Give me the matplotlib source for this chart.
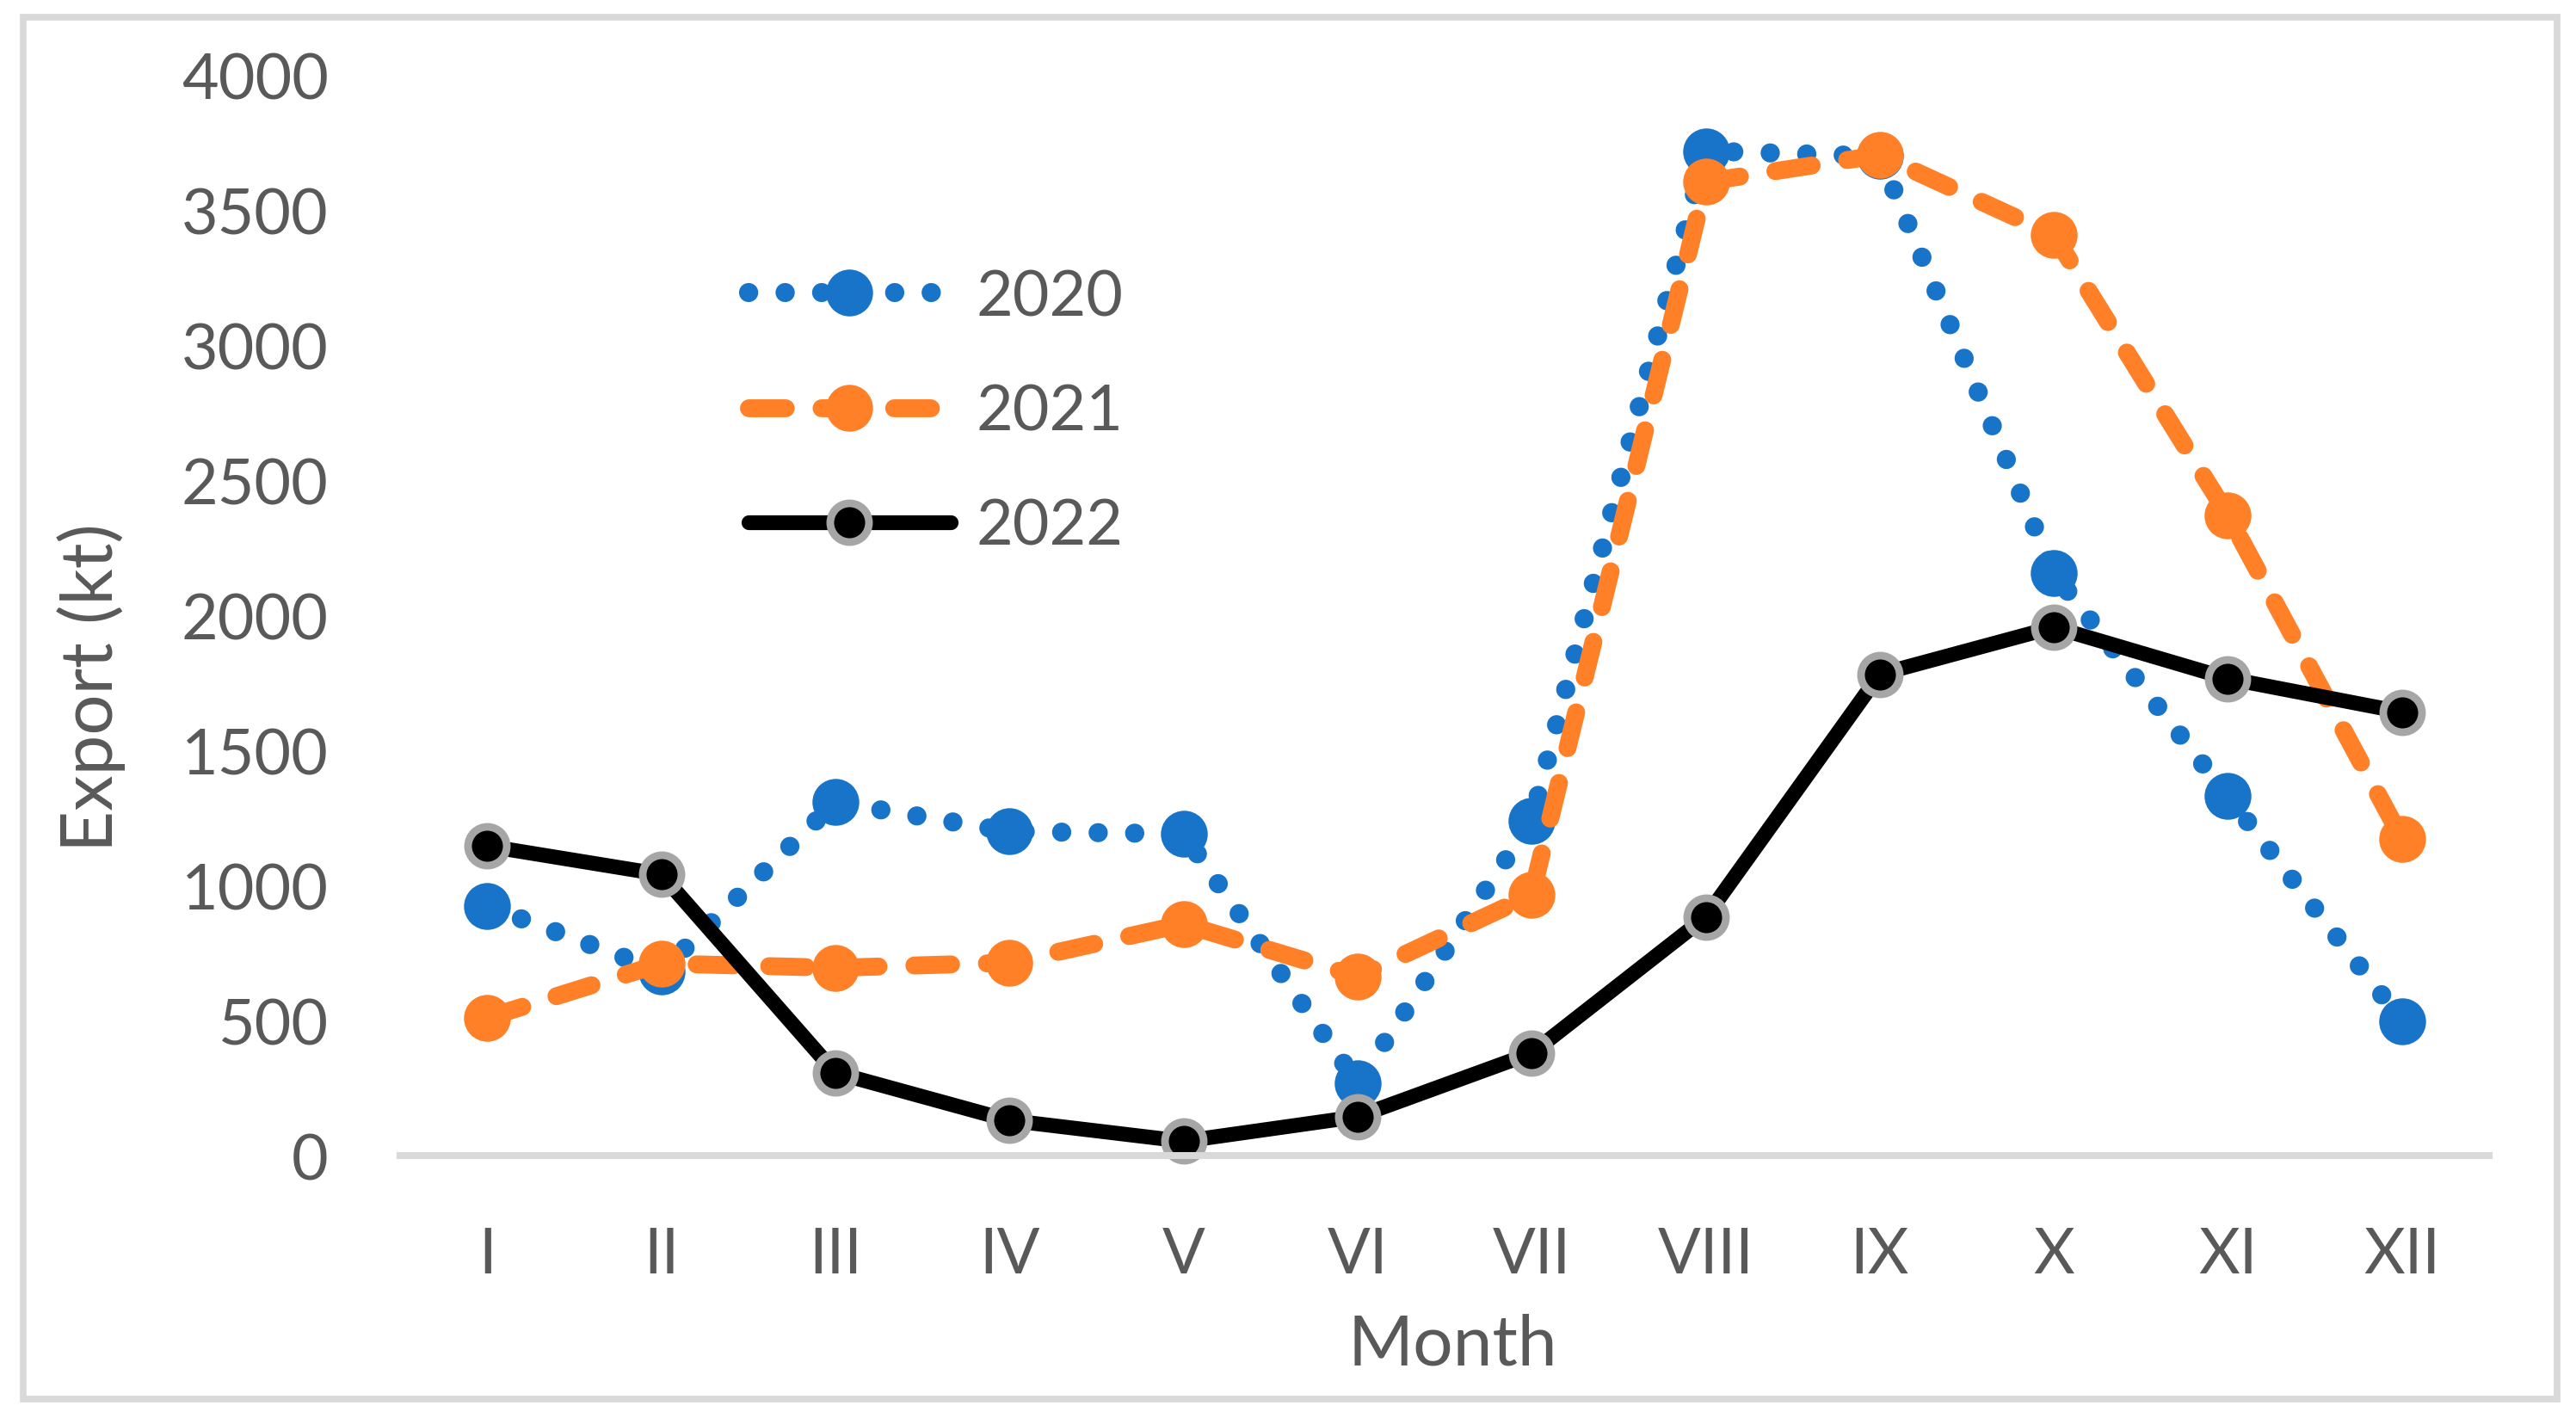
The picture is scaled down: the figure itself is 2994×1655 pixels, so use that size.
import matplotlib
matplotlib.use("Agg")
import matplotlib.pyplot as plt
from matplotlib.patches import Rectangle

# ---------------- data ----------------
months = ["I", "II", "III", "IV", "V", "VI", "VII", "VIII", "IX", "X", "XI", "XII"]
years = ["2020", "2021", "2022"]
export_2020 = [924, 682, 1308, 1200, 1191, 268, 1240, 3719, 3700, 2155, 1330, 498]
export_2021 = [510, 711, 695, 714, 857, 663, 965, 3605, 3704, 3408, 2370, 1172]
export_2022 = [1146, 1041, 307, 130, 53, 144, 379, 883, 1782, 1956, 1766, 1642]
y_ticks = [0, 500, 1000, 1500, 2000, 2500, 3000, 3500, 4000]

# ---------------- style ----------------
plt.rcParams["font.family"] = ["Lato", "DejaVu Sans"]
TEXT = "#595959"
BLUE = "#1874C8"
ORANGE = "#FF8027"
GRID = "#D9D9D9"

W, H, DPI = 2994, 1656, 200
fig = plt.figure(figsize=(W / DPI, H / DPI), dpi=DPI)

# outer chart border
fig.add_artist(Rectangle((26.5 / W, 1 - 1627 / H), (2972 - 26.5) / W, (1627 - 21) / H,
                         transform=fig.transFigure, fill=False, edgecolor=GRID,
                         linewidth=2.8, zorder=0))

ax_left, ax_right = 465 / W, 2893 / W
ax_bottom, ax_top = 1 - 1344 / H, 1 - 88.3 / H
ax = fig.add_axes([ax_left, ax_bottom, ax_right - ax_left, ax_top - ax_bottom])

x = list(range(len(months)))

ax.plot(x, export_2020, color=BLUE, lw=8, linestyle=(0, (0.01, 1.9)),
        dash_capstyle="round", solid_capstyle="round",
        marker="o", ms=19.6, mfc=BLUE, mec=BLUE, mew=0, label=years[0], clip_on=False)
ax.plot(x, export_2021, color=ORANGE, lw=7.5, linestyle=(0, (2.05, 2.0)),
        dash_capstyle="round", solid_capstyle="round",
        marker="o", ms=19.6, mfc=ORANGE, mec=ORANGE, mew=0, label=years[1], clip_on=False)
ax.plot(x, export_2022, color="black", lw=6.2, solid_capstyle="round",
        solid_joinstyle="round",
        marker="o", ms=16.2, mfc="black", mec="#A6A6A6", mew=3.2, label=years[2], clip_on=False)

ax.set_xlim(-0.5, len(months) - 0.5)
ax.set_ylim(0, 4000)
ax.set_xticks(x)
ax.set_xticklabels(months)
ax.set_yticks(y_ticks)
ax.set_yticklabels([str(v) for v in y_ticks])
ax.tick_params(axis="both", length=0, labelsize=26.5, labelcolor=TEXT)
ax.tick_params(axis="y", pad=30)
ax.tick_params(axis="x", pad=29.5)

for s in ["left", "top", "right"]:
    ax.spines[s].set_visible(False)
ax.spines["bottom"].set_color(GRID)
ax.spines["bottom"].set_linewidth(2.9)
ax.set_facecolor("none")

fig.text(1688 / W, 1 - 1587 / H, "Month", ha="center", va="baseline",
         fontsize=29.5, color=TEXT)
fig.text(106 / W, 1 - 799 / H, "Export (kt)", ha="center", va="center",
         rotation=90, fontsize=30, color=TEXT)

leg = ax.legend(loc="center left", bbox_to_anchor=(870 / W, 1 - 480 / H),
                bbox_transform=fig.transFigure, frameon=False, fontsize=26.5,
                labelcolor=TEXT, handlelength=3.19, handletextpad=0.40,
                labelspacing=0.90, borderpad=0, borderaxespad=0, numpoints=1)

fig.savefig("out.png", dpi=DPI)
